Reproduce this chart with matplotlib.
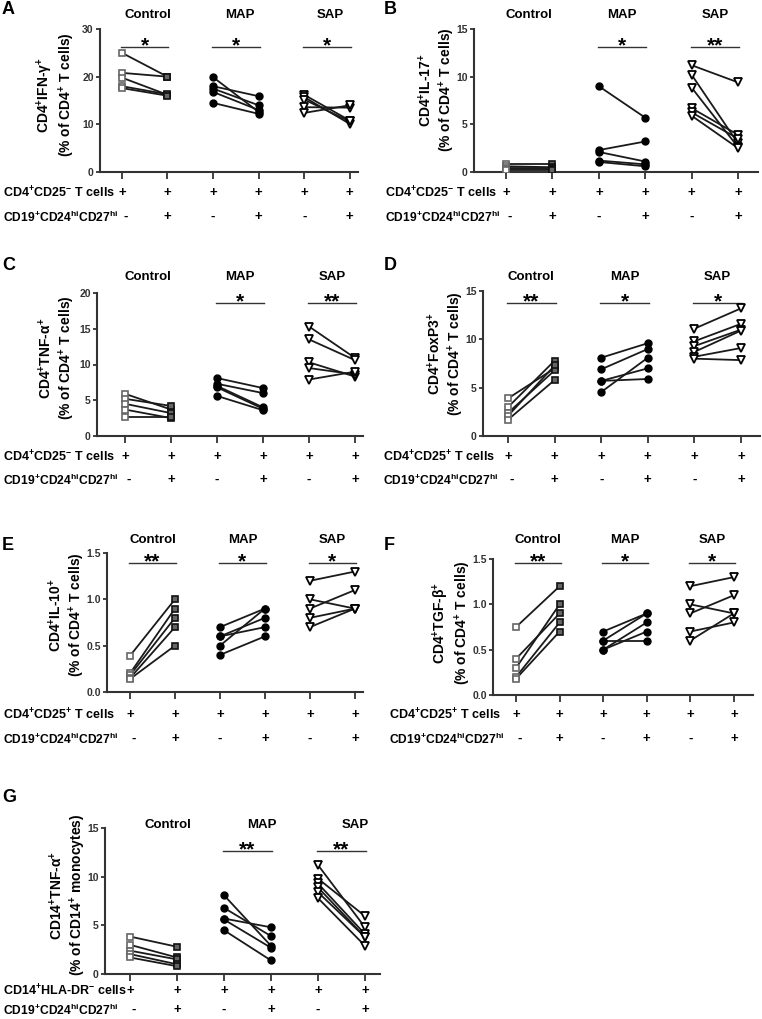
import matplotlib
matplotlib.use("Agg")
import matplotlib.pyplot as plt
import matplotlib.transforms as mtrans

plt.rcParams.update({
    "font.family": ["Liberation Sans", "DejaVu Sans"],
    "font.weight": "bold",
    "mathtext.fontset": "custom",
    "mathtext.rm": "Liberation Sans:bold",
    "mathtext.it": "Liberation Sans:bold",
    "mathtext.bf": "Liberation Sans:bold",
    "mathtext.default": "regular",
})

# ---------------- data: (before, after) pairs per donor ----------------
groups = ["Control", "MAP", "SAP"]

A_ctrl = [(25, 20), (20.8, 20), (19.8, 16.2), (18, 16.3), (17.6, 16.0)]
A_map = [(19.9, 12.6), (18.0, 15.9), (17.5, 14.0), (16.8, 13.0), (14.5, 12.2)]
A_sap = [(16.2, 10.8), (15.7, 10.1), (15.2, 10.6), (13.6, 13.5), (12.4, 14.0)]
A_sig = ["*", "*", "*"]

B_ctrl = [(0.8, 0.8), (0.6, 0.5), (0.4, 0.4), (0.3, 0.3), (0.2, 0.2)]
B_map = [(9.0, 5.7), (2.3, 3.2), (2.1, 1.1), (1.2, 0.8), (1.05, 0.6)]
B_sap = [(11.2, 9.4), (10.2, 3.0), (8.85, 2.6), (6.7, 3.9), (6.25, 3.5), (5.9, 2.5)]
B_sig = [None, "*", "**"]

C_ctrl = [(5.9, 3.7), (5.2, 4.2), (4.5, 3.2), (3.7, 2.5), (2.7, 2.7)]
C_map = [(8.1, 6.7), (7.3, 6.0), (7.0, 4.0), (6.8, 3.8), (5.6, 3.6)]
C_sap = [(15.3, 10.9), (13.5, 10.6), (10.3, 8.3), (9.5, 8.6), (7.9, 9.0)]
C_sig = [None, "*", "**"]

D_ctrl = [(3.9, 7.0), (3.0, 7.8), (2.4, 6.8), (2.1, 7.3), (1.7, 5.8)]
D_map = [(8.1, 9.6), (6.9, 9.0), (5.7, 7.0), (5.7, 5.9), (4.55, 8.1)]
D_sap = [(11.1, 13.2), (9.8, 11.6), (9.3, 11.0), (8.7, 10.9), (8.2, 9.1), (8.0, 7.85)]
D_sig = ["**", "*", "*"]

E_ctrl = [(0.39, 1.0), (0.2, 0.9), (0.18, 0.8), (0.15, 0.7), (0.14, 0.5)]
E_map = [(0.7, 0.9), (0.6, 0.8), (0.6, 0.7), (0.5, 0.9), (0.4, 0.6)]
E_sap = [(1.2, 1.3), (1.0, 0.9), (0.9, 1.1), (0.8, 0.9), (0.7, 0.9)]
E_sig = ["**", "*", "*"]

F_ctrl = [(0.75, 1.2), (0.4, 0.9), (0.3, 1.0), (0.2, 0.8), (0.18, 0.7)]
F_map = [(0.7, 0.9), (0.6, 0.9), (0.6, 0.6), (0.5, 0.8), (0.5, 0.7)]
F_sap = [(1.2, 1.3), (1.0, 0.9), (0.9, 1.1), (0.7, 0.8), (0.6, 0.9)]
F_sig = ["**", "*", "*"]

G_ctrl = [(3.85, 2.8), (3.0, 1.7), (2.4, 1.5), (2.05, 1.0), (1.7, 0.8)]
G_map = [(8.1, 2.9), (6.8, 3.9), (5.7, 4.8), (5.6, 2.7), (4.5, 1.4)]
G_sap = [(11.2, 4.8), (9.8, 5.95), (9.3, 4.1), (8.9, 3.8), (8.4, 3.8), (7.8, 2.9)]
G_sig = [None, "**", "**"]

row1_minus = r"CD4$^{+}$CD25$^{-}$ T cells"
row1_plus = r"CD4$^{+}$CD25$^{+}$ T cells"
row1_mono = r"CD14$^{+}$HLA-DR$^{-}$ cells"
row2 = r"CD19$^{+}$CD24$^{\mathrm{hi}}$CD27$^{\mathrm{hi}}$"
row1_signs = ["+", "+", "+", "+", "+", "+"]
row2_signs = ["-", "+", "-", "+", "-", "+"]

# ---------------- figure ----------------
W, H = 762, 1019
fig = plt.figure(figsize=(W / 100, H / 100), dpi=100)

def px_axes(l, r, t, b):
    return fig.add_axes([l / W, 1 - b / H, (r - l) / W, (b - t) / H])

def fy(y):
    return 1 - y / H

def fx(x):
    return x / W

LC = "#1a1a1a"

def panel(letter, letter_xy, rect, xlim, ylim, yticks, yfmt, ylabel, ylabel_xy,
          data, sig, title_y, title_dx, line_y, row_lbl, row_x, row_y):
    l, r, t, b = rect
    ax = px_axes(l, r, t, b)
    ctrl, mp, sp = data
    # control squares
    for pre, post in ctrl:
        ax.plot([0, 1], [pre, post], color=LC, lw=1.3, zorder=2)
    ax.plot([0] * len(ctrl), [p[0] for p in ctrl], ls="none", marker="s", ms=4.5,
            mfc="white", mec="#666666", mew=1.2, zorder=3)
    ax.plot([1] * len(ctrl), [p[1] for p in ctrl], ls="none", marker="s", ms=4.5,
            mfc="#666666", mec="#111111", mew=1.2, zorder=3)
    # MAP circles
    for pre, post in mp:
        ax.plot([2, 3], [pre, post], color=LC, lw=1.3, zorder=2)
    ax.plot([2] * len(mp), [p[0] for p in mp], ls="none", marker="o", ms=5,
            mfc="black", mec="black", zorder=3)
    ax.plot([3] * len(mp), [p[1] for p in mp], ls="none", marker="o", ms=5,
            mfc="black", mec="black", zorder=3)
    # SAP triangles
    for pre, post in sp:
        ax.plot([4, 5], [pre, post], color=LC, lw=1.3, zorder=2)
    ax.plot([4] * len(sp), [p[0] for p in sp], ls="none", marker="v", ms=6,
            mfc="white", mec="black", mew=1.3, zorder=3)
    ax.plot([5] * len(sp), [p[1] for p in sp], ls="none", marker="v", ms=6,
            mfc="white", mec="black", mew=1.3, zorder=3)

    ax.set_xlim(*xlim)
    ax.set_ylim(*ylim)
    ax.set_xticks(range(6))
    ax.set_xticklabels([])
    ax.set_yticks(yticks)
    ax.set_yticklabels([yfmt.format(v) for v in yticks], fontsize=7.5, fontweight="bold")
    for s in ("top", "right"):
        ax.spines[s].set_visible(False)
    for s in ("left", "bottom"):
        ax.spines[s].set_linewidth(1.5)
        ax.spines[s].set_color("#333333")
    ax.tick_params(axis="y", direction="out", length=3, width=1.3, colors="#333333", pad=1.5)
    ax.tick_params(axis="x", direction="out", length=5, width=1.3, colors="#333333")
    ax.patch.set_alpha(0)

    def ay(ypix):
        return (b - ypix) / (b - t)

    tr = mtrans.blended_transform_factory(ax.transData, ax.transAxes)
    for g, name in enumerate(groups):
        x0, x1 = 2 * g, 2 * g + 1
        ax.text((x0 + x1) / 2 + title_dx, ay(title_y), name, transform=tr,
                ha="center", va="center", fontsize=9.5, fontweight="bold", clip_on=False)
        if sig[g]:
            ax.plot([x0 - 0.02, x1 + 0.02], [ay(line_y)] * 2, transform=tr, color="#333333",
                    lw=1.0, clip_on=False)
            ax.text((x0 + x1) / 2, ay(line_y + 4), sig[g], transform=tr, ha="center",
                    va="baseline", fontsize=15, fontweight="bold", clip_on=False)
    for i in range(6):
        ax.text(i, ay(row_y[0]), row1_signs[i], transform=tr, ha="center", va="center",
                fontsize=9.5, fontweight="bold", clip_on=False)
        ax.text(i + (0.08 if i == 0 else 0), ay(row_y[1]), row2_signs[i], transform=tr,
                ha="center", va="center", fontsize=9.5, fontweight="bold", clip_on=False)
    fig.text(fx(row_x), fy(row_y[0]), row_lbl, ha="left", va="center", fontsize=9,
             fontweight="bold")
    fig.text(fx(row_x), fy(row_y[1]), row2, ha="left", va="center", fontsize=8.7,
             fontweight="bold")
    fig.text(fx(ylabel_xy[0]), fy(ylabel_xy[1]), ylabel, rotation=90, ha="center",
             va="center", fontsize=10, fontweight="bold", multialignment="center",
             linespacing=1.15)
    fig.text(fx(letter_xy[0]), fy(letter_xy[1]), letter, ha="left", va="center",
             fontsize=13, fontweight="bold")
    return ax


panel("A", (2, 10), (100, 358, 29, 172), (-0.48, 5.18), (0, 30), [0, 10, 20, 30], "{:g}",
      "CD4$^{+}$IFN-γ$^{+}$\n(% of CD4$^{+}$ T cells)", (56, 95),
      (A_ctrl, A_map, A_sap), A_sig, 15, 0.08, 47, row1_minus, 3, (193, 217))

panel("B", (384, 10), (474, 758, 29, 172), (-0.69, 5.43), (0, 15), [0, 5, 10, 15], "{:g}",
      "CD4$^{+}$IL-17$^{+}$\n(% of CD4$^{+}$ T cells)", (437, 90),
      (B_ctrl, B_map, B_sap), B_sig, 15, 0.0, 47, row1_minus, 385, (193, 217))

panel("C", (2, 265), (97, 363, 293, 436), (-0.61, 5.17), (0, 20), [0, 5, 10, 15, 20], "{:g}",
      "CD4$^{+}$TNF-α$^{+}$\n(% of CD4$^{+}$ T cells)", (57, 358),
      (C_ctrl, C_map, C_sap), C_sig, 277, 0.0, 303, row1_minus, 3, (457, 480))

panel("D", (384, 265), (483, 760, 291, 436), (-0.54, 5.41), (0, 15), [0, 5, 10, 15], "{:g}",
      "CD4$^{+}$FoxP3$^{+}$\n(% of CD4$^{+}$ T cells)", (446, 354),
      (D_ctrl, D_map, D_sap), D_sig, 277, 0.0, 303, row1_plus, 383, (457, 480))

panel("E", (2, 545), (107, 363, 553, 692), (-0.51, 5.18), (0, 1.5), [0, 0.5, 1.0, 1.5], "{:.1f}",
      "CD4$^{+}$IL-10$^{+}$\n(% of CD4$^{+}$ T cells)", (67, 615),
      (E_ctrl, E_map, E_sap), E_sig, 540, 0.0, 563, row1_plus, 3, (715, 739))

panel("F", (384, 545), (493, 753, 559, 695), (-0.53, 5.44), (0, 1.5), [0, 0.5, 1.0, 1.5], "{:.1f}",
      "CD4$^{+}$TGF-β$^{+}$\n(% of CD4$^{+}$ T cells)", (452, 623),
      (F_ctrl, F_map, F_sap), F_sig, 540, 0.0, 563, row1_plus, 389, (715, 739))

panel("G", (2, 797), (105, 380, 828, 974), (-0.53, 5.32), (0, 15), [0, 5, 10, 15], "{:g}",
      "CD14$^{+}$TNF-α$^{+}$\n(% of CD14$^{+}$ monocytes)", (68, 895),
      (G_ctrl, G_map, G_sap), G_sig, 825, 0.3, 851, row1_mono, 3, (991, 1010))

fig.savefig("out.png", dpi=100)
